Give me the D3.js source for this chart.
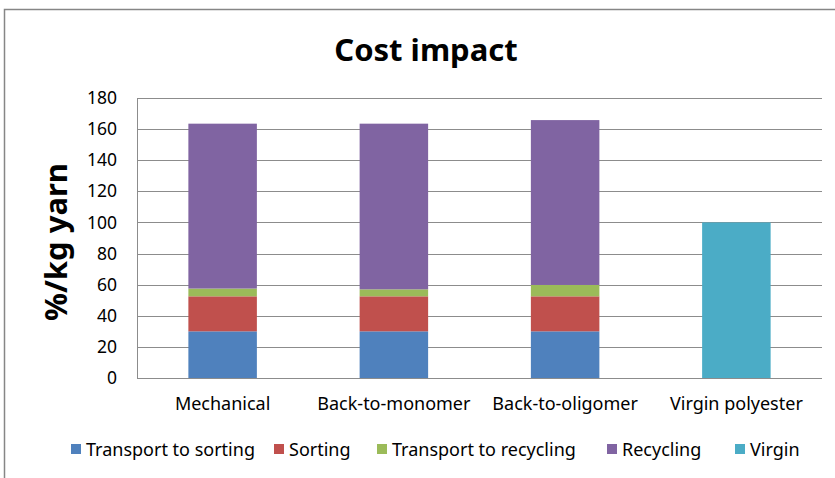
<!DOCTYPE html>
<html><head><meta charset="utf-8">
<script src="https://cdn.jsdelivr.net/npm/d3@7"></script>
<style>body{margin:0;background:#fff;} svg{display:block;}</style>
</head><body>
<svg id="c" width="835" height="478"></svg>
<script>
const categories = ["Mechanical", "Back-to-monomer", "Back-to-oligomer", "Virgin polyester"];
const seriesNames = ["Transport to sorting", "Sorting", "Transport to recycling", "Recycling", "Virgin"];
const transportToSorting = [30, 30, 30, 0];
const sorting = [22.5, 22.5, 22.5, 0];
const transportToRecycling = [5, 4.5, 7.3, 0];
const recycling = [106, 106.5, 106, 0];
const virgin = [0, 0, 0, 100];
const yTicks = [0, 20, 40, 60, 80, 100, 120, 140, 160, 180];
const colors = ["#4F81BD", "#C0504D", "#9BBB59", "#8064A2", "#4BACC6"];

const seriesValues = [transportToSorting, sorting, transportToRecycling, recycling, virgin];
const rows = categories.map((c, i) => {
  const r = {cat: c};
  seriesNames.forEach((s, j) => r[s] = seriesValues[j][i]);
  return r;
});

const svg = d3.select("#c");
const m = {left: 137, right: 822, top: 98, bottom: 378};
const FONT = "Noto Sans, sans-serif";

svg.append("rect").attr("x", 4.5).attr("y", 9.5).attr("width", 850).attr("height", 500)
  .attr("fill", "#fff").attr("stroke", "#868686").attr("stroke-width", 1.5);

const x = d3.scaleBand().domain(categories).range([m.left, m.right]).paddingInner(0.6).paddingOuter(0.3);
const y = d3.scaleLinear().domain([0, 180]).range([m.bottom, m.top]);

// gridlines
svg.append("g").selectAll("line").data(yTicks.filter(t => t > 0)).join("line")
  .attr("x1", m.left).attr("x2", m.right)
  .attr("y1", d => Math.round(y(d)) + 0.5).attr("y2", d => Math.round(y(d)) + 0.5)
  .attr("stroke", "#8c8c8c").attr("stroke-width", 1);

// bars
const stack = d3.stack().keys(seriesNames)(rows);
svg.append("g").selectAll("g").data(stack).join("g")
  .attr("fill", (d, i) => colors[i])
  .selectAll("rect").data(d => d).join("rect")
  .attr("x", d => x(d.data.cat))
  .attr("width", x.bandwidth())
  .attr("y", d => y(d[1]))
  .attr("height", d => Math.max(0, y(d[0]) - y(d[1])));

// axes
const yAxis = d3.axisLeft(y).tickValues(yTicks).tickSize(0).tickPadding(20);
const gy = svg.append("g").attr("transform", `translate(${m.left},0)`).call(yAxis);
gy.select(".domain").attr("stroke", "#8c8c8c");
gy.selectAll("text").attr("font-family", FONT).attr("font-size", 17.5).attr("fill", "#000");

const xAxis = d3.axisBottom(x).tickSize(0).tickPadding(19);
const gx = svg.append("g").attr("transform", `translate(0,${m.bottom})`).call(xAxis);
gx.select(".domain").attr("stroke", "#8c8c8c").attr("d", `M${m.left},0.5H${m.right}`);
gx.selectAll("text").attr("font-family", FONT).attr("font-size", 18).attr("fill", "#000");

// title
svg.append("text").attr("x", 426).attr("y", 61).attr("text-anchor", "middle")
  .attr("font-family", FONT).attr("font-weight", "bold").attr("font-size", 31)
  .text("Cost impact");

svg.append("text").attr("transform", "translate(67,242) rotate(-90)").attr("text-anchor", "middle")
  .attr("font-family", FONT).attr("font-weight", "bold").attr("font-size", 31)
  .text("%/kg yarn");

// legend
const legX = [71, 274, 377, 607, 735];
const leg = svg.append("g").selectAll("g").data(seriesNames).join("g")
  .attr("transform", (d, i) => `translate(${legX[i]},449)`);
leg.append("rect").attr("x", 0).attr("y", -5).attr("width", 10).attr("height", 10).attr("fill", (d, i) => colors[i]);
leg.append("text").attr("x", 15).attr("y", 6.5).attr("font-family", FONT).attr("font-size", 18)
  .text(d => d);
</script>
</body></html>
